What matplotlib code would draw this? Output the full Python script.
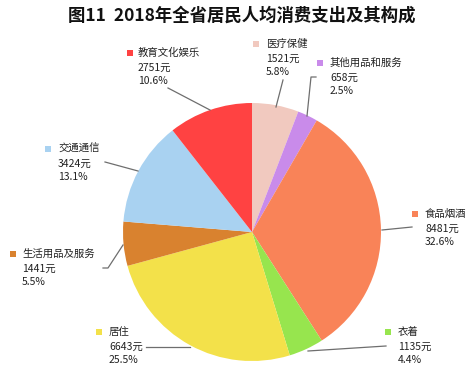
import matplotlib
matplotlib.use("Agg")
import matplotlib.pyplot as plt
from matplotlib.patches import Rectangle

plt.rcParams['font.family'] = ['Noto Sans CJK SC', 'DejaVu Sans']

title = "图11  2018年全省居民人均消费支出及其构成"
categories = ["医疗保健", "其他用品和服务", "食品烟酒", "衣着", "居住", "生活用品及服务", "交通通信", "教育文化娱乐"]
values = [1521, 658, 8481, 1135, 6643, 1441, 3424, 2751]
colors = ["#F1C9BF", "#C98BEA", "#F98358", "#97E54E", "#F3E14A", "#D9822F", "#A9D2F1", "#FF4242"]

# label layout (pixel positions): marker x, text x, first-line y
label_pos = {
    "医疗保健": (256, 266, 44),
    "其他用品和服务": (320, 330, 63),
    "食品烟酒": (415, 425, 214),
    "衣着": (388, 398, 332),
    "居住": (99, 109, 332),
    "生活用品及服务": (13, 22, 254),
    "交通通信": (48, 58, 149),
    "教育文化娱乐": (130, 138, 53),
}
leaders = {
    "医疗保健": [(283, 80), (276, 107)],
    "其他用品和服务": [(316, 77), (311, 77), (307, 116)],
    "食品烟酒": [(412, 227), (382, 230)],
    "衣着": [(386, 346), (308, 351)],
    "居住": [(146, 347), (190, 347)],
    "生活用品及服务": [(103, 268), (108, 268), (123, 245)],
    "交通通信": [(105, 162), (138, 171)],
    "教育文化娱乐": [(168, 88), (210, 110)],
}

W, H = 476, 370
fig = plt.figure(figsize=(W / 100, H / 100), dpi=100)
fig.patch.set_facecolor("white")
ax = fig.add_axes([0, 0, 1, 1])

def Y(y):
    return H - y

cx, cy, r = 252, 232, 129
ax.pie(values, colors=colors, startangle=90, counterclock=False,
       center=(cx, Y(cy)), radius=r, frame=True,
       wedgeprops=dict(linewidth=0))
ax.set_xlim(0, W)
ax.set_ylim(0, H)
ax.set_aspect("auto")
ax.axis("off")

total = sum(values)
for cat, val, col in zip(categories, values, colors):
    mx, tx, ty = label_pos[cat]
    ax.add_patch(Rectangle((mx - 3, Y(ty) - 3), 6, 6, facecolor=col, edgecolor="none"))
    pct = val / total * 100
    ax.text(tx, Y(ty), cat, fontsize=7.5, va="center", ha="left", color="#222222")
    ax.text(tx, Y(ty + 15), f"{val}元", fontsize=7.5, va="center", ha="left", color="#222222")
    ax.text(tx, Y(ty + 28), f"{pct:.1f}%", fontsize=7.5, va="center", ha="left", color="#222222")
    pts = leaders[cat]
    ax.plot([p[0] for p in pts], [Y(p[1]) for p in pts], color="#6e6e6e", lw=0.9)

ax.text(242, Y(16), title, fontsize=12.5, fontweight="bold", ha="center", va="center", color="#111111")

fig.savefig("out.png", dpi=100)
